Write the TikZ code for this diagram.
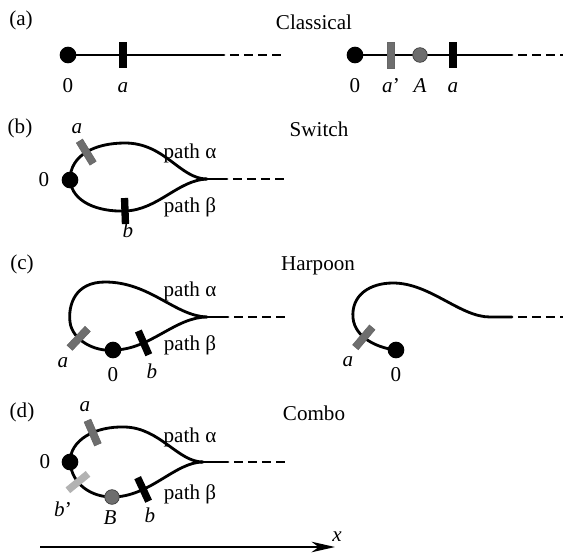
\documentclass[tikz,border=0pt]{standalone}
\usepackage{fontspec}
\setmainfont{Liberation Serif}
\usetikzlibrary{arrows.meta}

\definecolor{bargrey}{HTML}{6E6E6E}
\definecolor{barlight}{HTML}{B2B2B2}

\begin{document}
\begin{tikzpicture}[x=0.03cm, y=-0.03cm,
    every node/.style={font=\fontsize{18}{21}\selectfont},
    wire/.style={line width=2.4pt, line cap=round},
    tail/.style={line width=2.4pt, dash pattern=on 7.7pt off 4.3pt, shorten <=5pt},
    dot/.style={circle, fill=black, inner sep=0pt, minimum size=0.5cm},
    ball/.style={circle, fill=bargrey, draw=black!75, line width=0.6pt, inner sep=0pt, minimum size=0.44cm},
    blackbar/.style={rectangle, fill=black, inner sep=0pt, minimum width=0.22cm, minimum height=0.78cm},
    greybar/.style={blackbar, fill=bargrey, draw=black!60, line width=0.5pt},
    lightbar/.style={blackbar, fill=barlight},
    lbl/.style={inner sep=0pt}]

\useasboundingbox (0,0) rectangle (563,553);

% =============================================
% (a) Classical
% =============================================
\node[lbl] (atag) at (21,20) {(a)};
\node[lbl] (atitle) at (314,22) {Classical};

% left line
\coordinate (a0) at (68,55);
\coordinate (aE) at (224,55);
\coordinate (aF) at (285,55);
\draw[wire] (a0) -- (aE);
\draw[tail] (aE) -- (aF);
\node[dot] (adot) at (a0) {};
\node[blackbar] (abar) at (123,55) {};
\node[lbl, anchor=base] (al0) at (68,92) {0};
\node[lbl, anchor=base] (ala) at (123,92) {\textit{a}};

% right line
\coordinate (A0) at (355,55);
\coordinate (AE) at (512,55);
\coordinate (AF) at (563,55);
\draw[wire] (A0) -- (AE);
\draw[tail] (AE) -- (AF);
\node[dot] (Adot) at (A0) {};
\node[greybar] (Abarp) at (391,55) {};
\node[ball] (Aball) at (420,55) {};
\node[blackbar] (Abar) at (453,55) {};
\node[lbl, anchor=base] (Al0) at (355,92) {0};
\node[lbl, anchor=base] (Alap) at (391,92) {\textit{a}'};
\node[lbl, anchor=base] (AlA) at (420,92) {\textit{A}};
\node[lbl, anchor=base] (Ala) at (453,92) {\textit{a}};

% =============================================
% (b) Switch
% =============================================
\node[lbl] (btag) at (20,128) {(b)};
\node[lbl] (btitle) at (319,129) {Switch};

\node[dot] (b0) at (70,180) {};
\coordinate (bC) at (207,179);
\coordinate (bE) at (227,179);
\coordinate (bF) at (287,179);
% path alpha (upper)
\draw[wire] (b0.center) .. controls (70,155) and (95,143) .. (125,143)
    node[greybar, pos=.5, sloped] (ba) {}
    .. controls (165,143) and (180,179) .. (bC);
% path beta (lower)
\draw[wire] (b0.center) .. controls (72,202) and (98,212) .. (125,211)
    node[blackbar, pos=1, sloped] (bb) {}
    .. controls (158,210) and (178,180) .. (bC);
\draw[wire] (bC) -- (bE);
\draw[tail] (bE) -- (bF);

\node[lbl] (bl0) at (44,180) {0};
\node[lbl] (bla) at (77,129) {\textit{a}};
\node[lbl] (blb) at (128,230) {\textit{b}};
\node[lbl] (blal) at (190,153) {path α};
\node[lbl] (blbe) at (190,207) {path β};

% =============================================
% (c) Harpoon
% =============================================
\node[lbl] (ctag) at (22,264) {(c)};
\node[lbl] (ctitle) at (318,266) {Harpoon};

% left: closed loop
\node[dot] (c0) at (113,350) {};
\coordinate (cC) at (207,317);
\coordinate (cE) at (228,317);
\coordinate (cF) at (287,317);
\draw[wire] (cC) .. controls (175,316) and (150,282) .. (105,282)
    .. controls (75,282) and (68,305) .. (70,322)
    .. controls (72,340) and (95,352) .. (c0.center)
    node[greybar, pos=.35, sloped] (ca) {};
\draw[wire] (c0.center) .. controls (150,350) and (175,317) .. (cC)
    node[blackbar, pos=.3, sloped] (cb) {};
\draw[wire] (cC) -- (cE);
\draw[tail] (cE) -- (cF);

\node[lbl] (cla) at (63,363) {\textit{a}};
\node[lbl] (cl0) at (113,375) {0};
\node[lbl] (clb) at (152,371) {\textit{b}};
\node[lbl] (clal) at (190,291) {path α};
\node[lbl] (clbe) at (190,345) {path β};

% right: open harpoon
\node[dot] (h0) at (396,350) {};
\coordinate (hE) at (512,317);
\coordinate (hF) at (563,317);
\draw[wire] (h0.center) .. controls (378,348) and (355,338) .. (353,318)
    node[greybar, pos=.6, sloped] (ha) {}
    .. controls (351,295) and (370,283) .. (393,283)
    .. controls (430,283) and (460,317) .. (490,317) -- (hE);
\draw[tail] (hE) -- (hF);

\node[lbl] (hla) at (348,362) {\textit{a}};
\node[lbl] (hl0) at (396,375) {0};

% =============================================
% (d) Combo
% =============================================
\node[lbl] (dtag) at (22,412) {(d)};
\node[lbl] (dtitle) at (314,413) {Combo};

\node[dot] (d0) at (70,462) {};
\coordinate (dC) at (203,462);
\coordinate (dE) at (228,462);
\coordinate (dF) at (287,462);
% path alpha (upper)
\draw[wire] (d0.center) .. controls (70,440) and (95,426) .. (125,427)
    node[greybar, pos=.6, sloped] (da) {}
    .. controls (160,428) and (178,462) .. (dC);
% path beta (lower)
\draw[wire] (d0.center) .. controls (72,485) and (92,497) .. (112,497)
    node[lightbar, pos=.35, sloped] (dbp) {}
    node[ball, pos=1] (dB) {}
    .. controls (150,497) and (175,462) .. (dC)
    node[blackbar, pos=.3, sloped] (db) {};
\draw[wire] (dC) -- (dE);
\draw[tail] (dE) -- (dF);

\node[lbl] (dl0) at (45,462) {0};
\node[lbl] (dla) at (85,407) {\textit{a}};
\node[lbl] (dlbp) at (63,509) {\textit{b}'};
\node[lbl] (dlB) at (110,518) {\textit{B}};
\node[lbl] (dlb) at (150,515) {\textit{b}};
\node[lbl] (dlal) at (190,437) {path α};
\node[lbl] (dlbe) at (190,494) {path β};

% =============================================
% x axis
% =============================================
\coordinate (xs) at (40,547);
\coordinate (xe) at (335,547);
\draw[line width=1.4pt, -{Stealth[length=20pt, width=9pt, inset=6pt]}] (xs) -- (xe);
\node[lbl] (xl) at (337,537) {\textit{x}};

\end{tikzpicture}
\end{document}
